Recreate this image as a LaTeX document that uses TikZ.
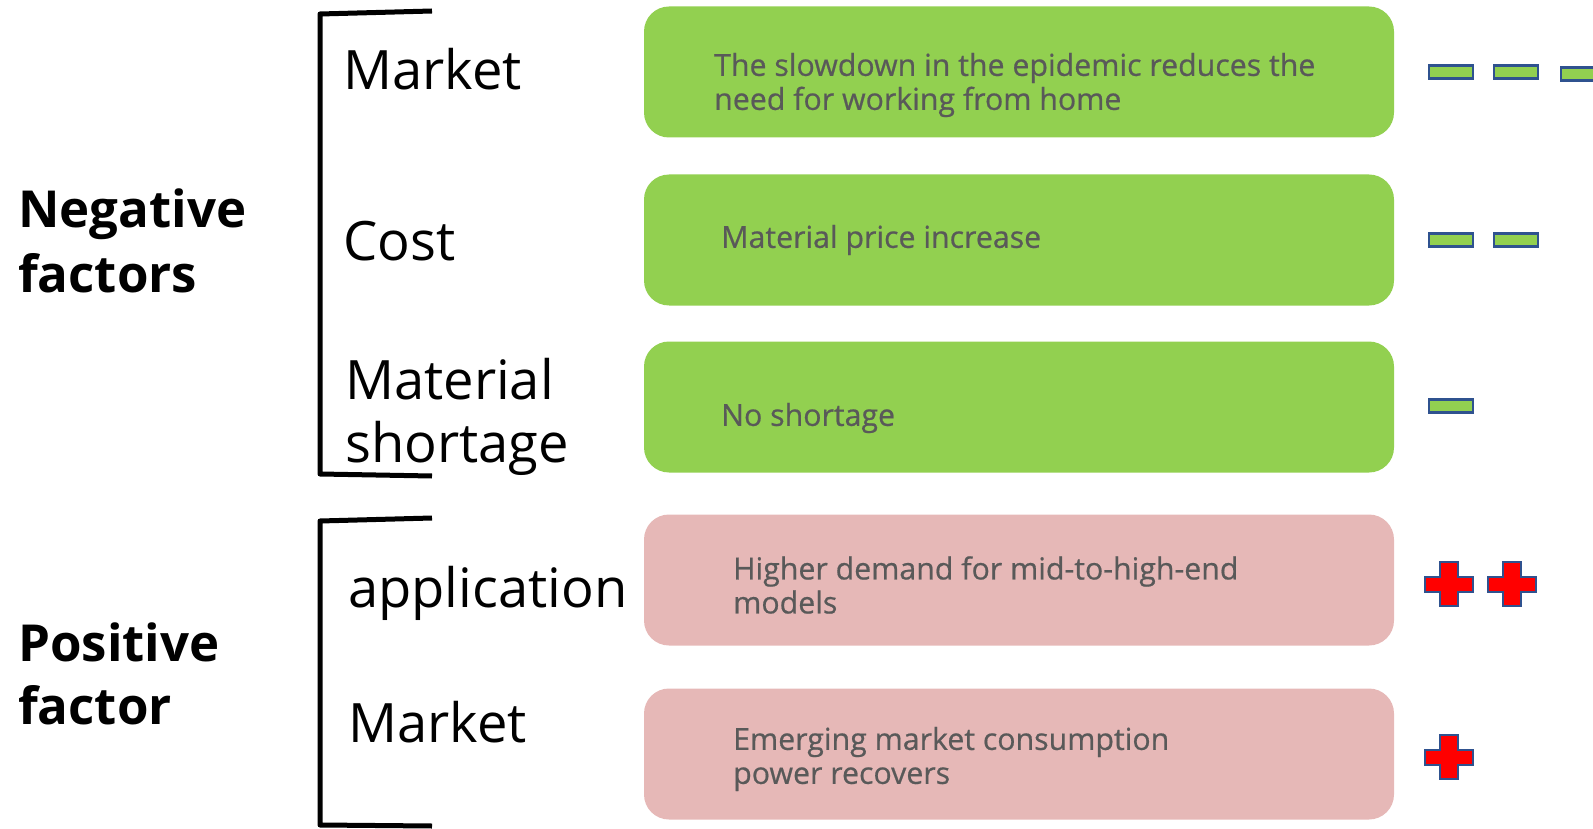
\documentclass[tikz,border=0pt]{standalone}
\usepackage{fontspec}
\setmainfont{Open Sans}
\newfontfamily\boxfont[FakeBold=0.6]{Open Sans}
\definecolor{posgreen}{HTML}{92D050}
\definecolor{pospink}{HTML}{E6B8B7}
\definecolor{markblue}{HTML}{2F528F}
\definecolor{txtgray}{HTML}{595959}
\begin{document}
\begin{tikzpicture}[x=1pt,y=-1pt,
  card/.style={rectangle,rounded corners=25pt,minimum width=750pt,minimum height=131pt,inner sep=0pt,draw=none},
  greencard/.style={card,fill=posgreen},
  pinkcard/.style={card,fill=pospink},
  cardtext/.style={anchor=west,inner sep=0pt,align=left,text=txtgray,font={\boxfont\fontsize{30.3}{34}\selectfont}},
  biglabel/.style={anchor=base west,inner sep=0pt,font={\fontsize{54.3}{64}\selectfont}},
  grouplabel/.style={anchor=base west,inner sep=0pt,align=left,font={\bfseries\fontsize{51}{64}\selectfont}},
  bracketline/.style={line width=5pt,line join=round},
  dashbox/.style={rectangle,minimum width=44pt,minimum height=13pt,inner sep=0pt,fill=posgreen,draw=markblue,line width=2.5pt},
  plussign/.pic={\draw[fill=red,draw=markblue,line width=2pt]
     (-24,-7.5) -- (-9,-7.5) -- (-9,-22) -- (9,-22) -- (9,-7.5) -- (24,-7.5) -- (24,7.5) -- (9,7.5) -- (9,22) -- (-9,22) -- (-9,7.5) -- (-24,7.5) -- cycle;}
]
\useasboundingbox (0,0) rectangle (1593,829);

% group labels
\node[grouplabel] (neg) at (18,228) {Negative};
\node[grouplabel] (negb) at (18,292) {factors};
\node[grouplabel] (pos) at (18,661) {Positive};
\node[grouplabel] (posb) at (18,724) {factor};

% brackets
\coordinate (b1a) at (432,11);
\coordinate (b1b) at (320,14);
\coordinate (b1c) at (320,474);
\coordinate (b1d) at (432,476);
\draw[bracketline] (b1a) -- (b1b) -- (b1c) -- (b1d);
\coordinate (b2a) at (432,518);
\coordinate (b2b) at (320,521);
\coordinate (b2c) at (320,825);
\coordinate (b2d) at (432,826);
\draw[bracketline] (b2a) -- (b2b) -- (b2c) -- (b2d);

% category labels
\node[biglabel] (l1) at (343,90) {Market};
\node[biglabel] (l2) at (343,260) {Cost};
\node[biglabel] (l3) at (345,399) {Material};
\node[biglabel] (l3b) at (345,462) {shortage};
\node[biglabel] (l4) at (348,607) {application};
\node[biglabel] (l5) at (348,742) {Market};

% cards
\node[greencard] (c1) at (1019,72) {};
\node[greencard] (c2) at (1019,240) {};
\node[greencard] (c3) at (1019,407) {};
\node[pinkcard] (c4) at (1019,580) {};
\node[pinkcard] (c5) at (1019,754) {};

\node[cardtext] (t1) at (714,85) {The slowdown in the epidemic reduces the\\need for working from home};
\node[cardtext] (t2) at (721,240) {Material price increase};
\node[cardtext] (t3) at (721,418) {No shortage};
\node[cardtext] (t4) at (733,585) {Higher demand for mid-to-high-end\\models};
\node[cardtext] (t5) at (733,759) {Emerging market consumption\\power recovers};

% marks
\node[dashbox] (d11) at (1451,72) {};
\node[dashbox] (d12) at (1516,72) {};
\node[dashbox] (d13) at (1583,74) {};
\node[dashbox] (d21) at (1451,240) {};
\node[dashbox] (d22) at (1516,240) {};
\node[dashbox] (d31) at (1451,406) {};
\pic (p41) at (1449,584) {plussign};
\pic (p42) at (1512,584) {plussign};
\pic (p51) at (1449,757) {plussign};
\end{tikzpicture}
\end{document}
